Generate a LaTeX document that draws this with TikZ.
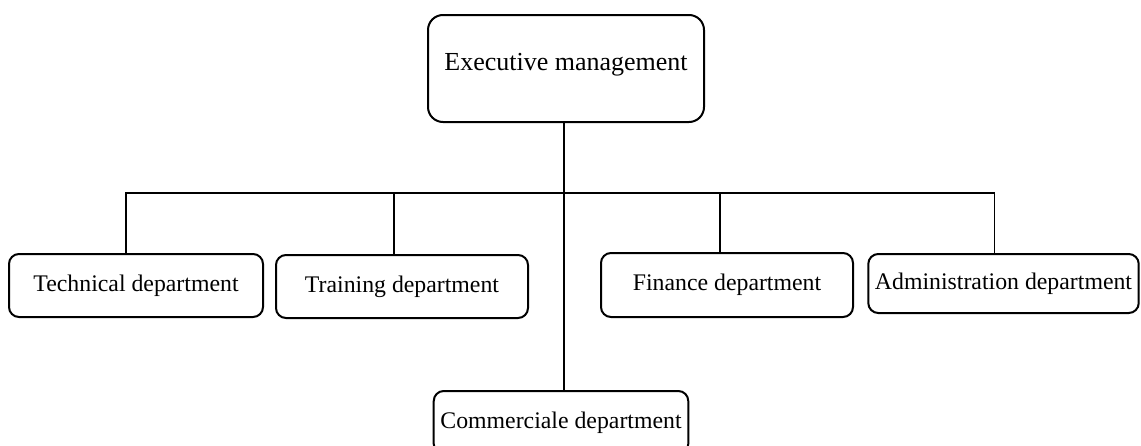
\documentclass[tikz,border=0pt]{standalone}
\usepackage{fontspec}
\setmainfont{Liberation Serif}
\usetikzlibrary{calc}

\begin{document}
\begin{tikzpicture}[x=0.5pt,y=-0.5pt,
 dept/.style={draw,line width=1pt,rounded corners=5pt,minimum width=127pt,
              minimum height=31.5pt,font=\fontsize{11.9}{14}\selectfont},
 head/.style={draw,line width=1pt,rounded corners=7.5pt,minimum width=138pt,
              inner ysep=0pt,text height=27.5pt,text depth=26pt,
              font=\fontsize{13}{15}\selectfont},
 link/.style={line width=0.7pt}]
\useasboundingbox (0,0) rectangle (1141,445);
\clip (0,0) rectangle (1141,445);
\node[head] (exec) at (566,68.5) {Executive management};
\node[dept] (tech) at (136,285.5) {Technical department};
\node[dept,minimum width=126pt] (train) at (402,286.5) {Training department};
\node[dept,minimum width=126pt,minimum height=32pt] (fin) at (727,285) {Finance department};
\node[dept,minimum width=134.5pt,minimum height=29.5pt] (admin) at (1003.5,283.5) {Administration department};
\node[dept] (comm) at (561,422.5) {Commerciale department};
\coordinate (bus) at (564,193);
% trunk and branches
\draw[link] (bus |- exec.south) -- (bus |- comm.north);
\draw[link] ([xshift=-5pt]tech.north) |- (bus) -| ([xshift=-4.5pt]admin.north);
\draw[link] ([xshift=-4pt]train.north) -- ([xshift=-4pt]train.north |- bus);
\draw[link] ([xshift=-3.5pt]fin.north) -- ([xshift=-3.5pt]fin.north |- bus);
\end{tikzpicture}
\end{document}
